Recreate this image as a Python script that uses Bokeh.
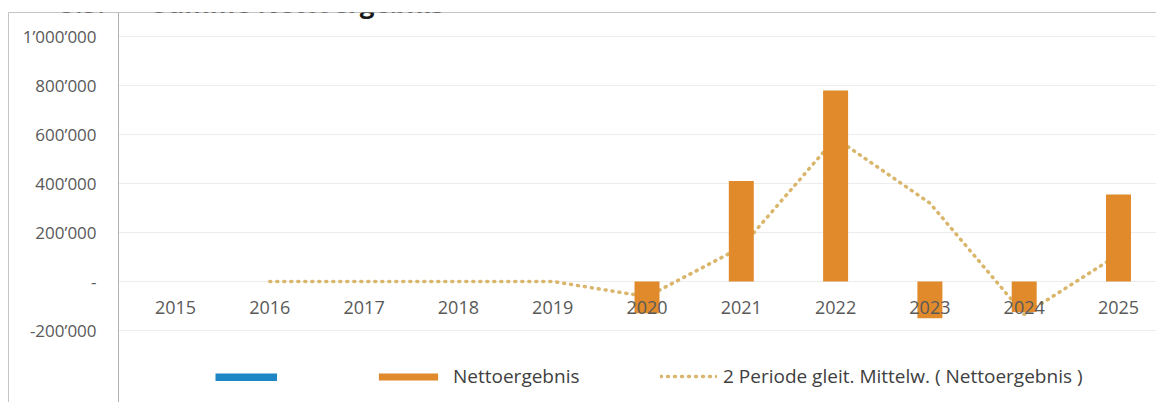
from bokeh.plotting import figure
from bokeh.models import (Range1d, FixedTicker, Legend, LegendItem, Label,
                          BoxAnnotation, LinearAxis)
from bokeh.embed import file_html
from bokeh.resources import INLINE

nan = float("nan")

# ---- data ----
years = [2015, 2016, 2017, 2018, 2019, 2020, 2021, 2022, 2023, 2024, 2025]
netto = [0, 0, 0, 0, 0, -130000, 410000, 780000, -150000, -125000, 355000]
ma_years = [2016, 2017, 2018, 2019, 2020, 2021, 2022, 2023, 2024, 2025]
ma_values = [0, 0, 0, 0, -62000, 140000, 585000, 320000, -135000, 110000]
# unnamed blue series: no values in the reference
blank_values = [nan, nan, nan, nan, nan, nan, nan, nan, nan, nan, nan]
y_ticks = [-200000, 0, 200000, 400000, 600000, 800000, 1000000]
y_tick_labels = ["-200\u2019000", "-", "200\u2019000", "400\u2019000",
                 "600\u2019000", "800\u2019000", "1\u2019000\u2019000"]
title_num = "5.5."
title_text = "Summe Nettoergebnis"
label_blank = " "
label_netto = "Nettoergebnis"
label_ma = "2 Periode gleit. Mittelw. ( Nettoergebnis )"

FONT = "Open Sans"
BAR = "#E08A2B"
DOT = "#D9B66C"
BLUE = "#1F86C6"
TXT = "#595959"
FRAME = "#c4c4c4"

X0, X1 = 2013.229, 2025.403
YAXIS_AT = 2014.396
Y0, Y1 = -494000, 1098000

p = figure(width=1156, height=402, output_backend="svg", toolbar_location=None,
           x_range=Range1d(X0, X1), y_range=Range1d(Y0, Y1),
           min_border_left=8, min_border_top=12, min_border_right=0,
           min_border_bottom=0, background_fill_color="white",
           border_fill_color="white", outline_line_color=None)

# moving-average dotted line (behind the bars)
ma = p.line(ma_years, ma_values, line_color=DOT, line_width=3.5,
            line_dash="1 6", line_cap="round")
bars = p.vbar(x=years, top=netto, bottom=0, width=0.265, fill_color=BAR,
              line_color=None)
blank = p.line(years, blank_values, line_color=BLUE, line_width=8)

# category axis at zero
xa = p.xaxis[0]
xa.fixed_location = 0
xa.ticker = FixedTicker(ticks=years)
xa.axis_line_color = None
xa.major_tick_line_color = None
xa.minor_tick_line_color = None
xa.major_label_text_font = FONT
xa.major_label_text_font_size = "18px"
xa.major_label_text_color = TXT
xa.major_label_standoff = 14

# value axis, drawn inside the box
ya = p.yaxis[0]
ya.fixed_location = YAXIS_AT
ya.ticker = FixedTicker(ticks=y_ticks)
ya.major_label_overrides = {t: l for t, l in zip(y_ticks, y_tick_labels)}
ya.axis_line_color = "#b0b0b0"
ya.major_tick_line_color = None
ya.minor_tick_line_color = None
ya.major_label_text_font = FONT
ya.major_label_text_font_size = "17px"
ya.major_label_text_color = TXT
ya.major_label_standoff = 16

# outer chart box edges (top and left) as bare axes
def bare_axis():
    return LinearAxis(ticker=FixedTicker(ticks=[]), axis_line_color=FRAME,
                      major_tick_line_color=None, minor_tick_line_color=None,
                      major_label_text_font_size="0px", major_label_standoff=0,
                      major_tick_in=0, major_tick_out=0)
p.add_layout(bare_axis(), "above")
p.add_layout(bare_axis(), "left")

p.xgrid.grid_line_color = None
p.ygrid.grid_line_color = "#ececec"
p.ygrid.ticker = FixedTicker(ticks=y_ticks)
# keep grid lines out of the label column
p.add_layout(BoxAnnotation(right=YAXIS_AT, fill_color="white", fill_alpha=1,
                           line_color=None, level="underlay"))

# clipped document heading above the chart
for tx, xpos in [(title_num, 2013.780), (title_text, 2014.760)]:
    p.add_layout(Label(x=xpos, y=1135000, text=tx, text_font=FONT,
                       text_font_style="bold", text_font_size="26px",
                       text_color="#1a1a1a", text_baseline="alphabetic"))

def mk_legend(item, x, y, standoff, gw, gh):
    lg = Legend(items=[item], location=(x, y), orientation="horizontal",
                padding=0, margin=0, border_line_color=None,
                background_fill_alpha=0, label_text_font=FONT,
                label_text_font_size="19px", label_text_color="#404040",
                glyph_width=gw, glyph_height=gh, label_height=8,
                label_standoff=standoff, spacing=0)
    p.add_layout(lg)

mk_legend(LegendItem(label=label_blank, renderers=[blank]), 207, 21, 0, 62, 8)
mk_legend(LegendItem(label=label_netto, renderers=[bars]), 363, 13, 8, 74, 9)
mk_legend(LegendItem(label=label_ma, renderers=[ma]), 652, 13, 6, 57, 8)

open("out.html", "w").write(file_html(p, INLINE))
